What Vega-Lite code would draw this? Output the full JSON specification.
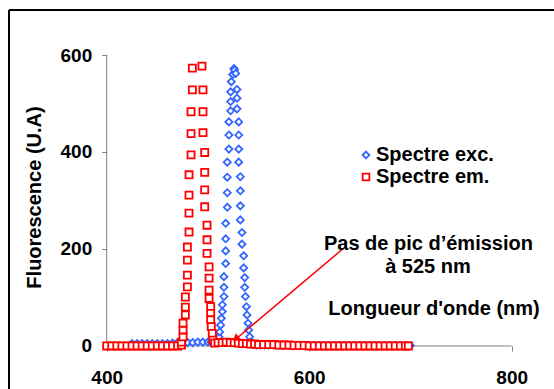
{
  "$schema": "https://vega.github.io/schema/vega-lite/v6.json",
  "width": 545,
  "height": 379,
  "autosize": {"type": "none"},
  "padding": {"left": 9, "top": 10, "right": 0, "bottom": 0},
  "background": "white",
  "data": {"values": [{"one": 1}]},
  "config": {
    "view": {"stroke": null},
    "axis": {
      "domain": false, "grid": false, "tickColor": "#808080", "tickWidth": 1, "tickSize": 5,
      "labelFont": "Liberation Sans", "labelFontWeight": "bold", "labelFontSize": 19, "labelColor": "black",
      "labelFlush": false, "labelOverlap": false,
      "titleFont": "Liberation Sans", "titleFontWeight": "bold", "titleFontSize": 20, "titleColor": "black"
    },
    "legend": {
      "title": null, "padding": 0,
      "labelFont": "Liberation Sans", "labelFontSize": 20, "labelFontWeight": "bold", "labelColor": "black",
      "symbolSize": 45, "symbolStrokeWidth": 1.8, "labelOffset": 0, "rowPadding": 2
    }
  },
  "datasets": {
    "spectra": [
      {"series": "Spectre exc.", "x": 425, "y": 5}, {"series": "Spectre exc.", "x": 430, "y": 5}, {"series": "Spectre exc.", "x": 435, "y": 5}, {"series": "Spectre exc.", "x": 440, "y": 5},
      {"series": "Spectre exc.", "x": 445, "y": 5}, {"series": "Spectre exc.", "x": 450, "y": 5}, {"series": "Spectre exc.", "x": 455, "y": 5}, {"series": "Spectre exc.", "x": 460, "y": 5},
      {"series": "Spectre exc.", "x": 465, "y": 6}, {"series": "Spectre exc.", "x": 470, "y": 7}, {"series": "Spectre exc.", "x": 475, "y": 7}, {"series": "Spectre exc.", "x": 480, "y": 7},
      {"series": "Spectre exc.", "x": 485, "y": 7}, {"series": "Spectre exc.", "x": 490, "y": 8}, {"series": "Spectre exc.", "x": 495, "y": 8}, {"series": "Spectre exc.", "x": 500, "y": 8},
      {"series": "Spectre exc.", "x": 503, "y": 8}, {"series": "Spectre exc.", "x": 505, "y": 9}, {"series": "Spectre exc.", "x": 507, "y": 10}, {"series": "Spectre exc.", "x": 509, "y": 14},
      {"series": "Spectre exc.", "x": 510.8, "y": 19}, {"series": "Spectre exc.", "x": 511.5, "y": 29}, {"series": "Spectre exc.", "x": 512.5, "y": 43}, {"series": "Spectre exc.", "x": 513.2, "y": 57},
      {"series": "Spectre exc.", "x": 514.2, "y": 71}, {"series": "Spectre exc.", "x": 514.2, "y": 85}, {"series": "Spectre exc.", "x": 515.8, "y": 102}, {"series": "Spectre exc.", "x": 515.8, "y": 121},
      {"series": "Spectre exc.", "x": 515.8, "y": 143}, {"series": "Spectre exc.", "x": 517.5, "y": 170}, {"series": "Spectre exc.", "x": 517.5, "y": 196}, {"series": "Spectre exc.", "x": 517.5, "y": 221},
      {"series": "Spectre exc.", "x": 517.5, "y": 253}, {"series": "Spectre exc.", "x": 519.1, "y": 286}, {"series": "Spectre exc.", "x": 519.1, "y": 316}, {"series": "Spectre exc.", "x": 519.1, "y": 348},
      {"series": "Spectre exc.", "x": 519.1, "y": 379}, {"series": "Spectre exc.", "x": 520.7, "y": 406}, {"series": "Spectre exc.", "x": 520.7, "y": 435}, {"series": "Spectre exc.", "x": 520.7, "y": 462},
      {"series": "Spectre exc.", "x": 522.4, "y": 485}, {"series": "Spectre exc.", "x": 522.4, "y": 504}, {"series": "Spectre exc.", "x": 522.4, "y": 524}, {"series": "Spectre exc.", "x": 523.1, "y": 545},
      {"series": "Spectre exc.", "x": 524.5, "y": 560}, {"series": "Spectre exc.", "x": 525.7, "y": 572}, {"series": "Spectre exc.", "x": 526.2, "y": 569},
      {"series": "Spectre exc.", "x": 527.4, "y": 562}, {"series": "Spectre exc.", "x": 528.7, "y": 529}, {"series": "Spectre exc.", "x": 528.7, "y": 511}, {"series": "Spectre exc.", "x": 528.7, "y": 489},
      {"series": "Spectre exc.", "x": 530.4, "y": 462}, {"series": "Spectre exc.", "x": 530.4, "y": 435}, {"series": "Spectre exc.", "x": 530.4, "y": 406}, {"series": "Spectre exc.", "x": 530.4, "y": 379},
      {"series": "Spectre exc.", "x": 532, "y": 349}, {"series": "Spectre exc.", "x": 532, "y": 320}, {"series": "Spectre exc.", "x": 532, "y": 289}, {"series": "Spectre exc.", "x": 532, "y": 260},
      {"series": "Spectre exc.", "x": 533.6, "y": 234}, {"series": "Spectre exc.", "x": 533.6, "y": 210}, {"series": "Spectre exc.", "x": 535.3, "y": 186}, {"series": "Spectre exc.", "x": 535.3, "y": 161},
      {"series": "Spectre exc.", "x": 536.3, "y": 141}, {"series": "Spectre exc.", "x": 536.3, "y": 121}, {"series": "Spectre exc.", "x": 537, "y": 102}, {"series": "Spectre exc.", "x": 538, "y": 81},
      {"series": "Spectre exc.", "x": 538.6, "y": 64}, {"series": "Spectre exc.", "x": 539.6, "y": 47}, {"series": "Spectre exc.", "x": 540.2, "y": 33}, {"series": "Spectre exc.", "x": 541.2, "y": 19},
      {"series": "Spectre exc.", "x": 542.5, "y": 8}, {"series": "Spectre exc.", "x": 544, "y": 3},
      {"series": "Spectre exc.", "x": 548, "y": 2}, {"series": "Spectre exc.", "x": 552, "y": 2}, {"series": "Spectre exc.", "x": 556, "y": 2}, {"series": "Spectre exc.", "x": 560, "y": 2},
      {"series": "Spectre exc.", "x": 565, "y": 2}, {"series": "Spectre exc.", "x": 570, "y": 2}, {"series": "Spectre exc.", "x": 575, "y": 1}, {"series": "Spectre exc.", "x": 580, "y": 1},
      {"series": "Spectre exc.", "x": 585, "y": 1}, {"series": "Spectre exc.", "x": 590, "y": 1}, {"series": "Spectre exc.", "x": 595, "y": 1}, {"series": "Spectre exc.", "x": 600, "y": 1},
      {"series": "Spectre exc.", "x": 605, "y": 1}, {"series": "Spectre exc.", "x": 610, "y": 1}, {"series": "Spectre exc.", "x": 615, "y": 1}, {"series": "Spectre exc.", "x": 620, "y": 1},
      {"series": "Spectre exc.", "x": 625, "y": 1}, {"series": "Spectre exc.", "x": 630, "y": 1}, {"series": "Spectre exc.", "x": 635, "y": 1}, {"series": "Spectre exc.", "x": 640, "y": 1},
      {"series": "Spectre exc.", "x": 645, "y": 1}, {"series": "Spectre exc.", "x": 650, "y": 1}, {"series": "Spectre exc.", "x": 655, "y": 1}, {"series": "Spectre exc.", "x": 660, "y": 1},
      {"series": "Spectre exc.", "x": 665, "y": 1}, {"series": "Spectre exc.", "x": 670, "y": 1}, {"series": "Spectre exc.", "x": 675, "y": 1}, {"series": "Spectre exc.", "x": 680, "y": 1},
      {"series": "Spectre exc.", "x": 685, "y": 1}, {"series": "Spectre exc.", "x": 690, "y": 1}, {"series": "Spectre exc.", "x": 695, "y": 1}, {"series": "Spectre exc.", "x": 700, "y": 1},

      {"series": "Spectre em.", "x": 400, "y": 0}, {"series": "Spectre em.", "x": 405, "y": 0}, {"series": "Spectre em.", "x": 410, "y": 0}, {"series": "Spectre em.", "x": 415, "y": 0},
      {"series": "Spectre em.", "x": 420, "y": 0}, {"series": "Spectre em.", "x": 425, "y": 0}, {"series": "Spectre em.", "x": 430, "y": 0}, {"series": "Spectre em.", "x": 435, "y": 0},
      {"series": "Spectre em.", "x": 440, "y": 0}, {"series": "Spectre em.", "x": 445, "y": 0}, {"series": "Spectre em.", "x": 450, "y": 0}, {"series": "Spectre em.", "x": 455, "y": 0},
      {"series": "Spectre em.", "x": 460, "y": 0}, {"series": "Spectre em.", "x": 465, "y": 0}, {"series": "Spectre em.", "x": 470, "y": 0},
      {"series": "Spectre em.", "x": 473.8, "y": 2}, {"series": "Spectre em.", "x": 473.8, "y": 8}, {"series": "Spectre em.", "x": 475.4, "y": 19}, {"series": "Spectre em.", "x": 475.4, "y": 33},
      {"series": "Spectre em.", "x": 475.4, "y": 47}, {"series": "Spectre em.", "x": 477.7, "y": 64}, {"series": "Spectre em.", "x": 477.7, "y": 80}, {"series": "Spectre em.", "x": 477.7, "y": 101},
      {"series": "Spectre em.", "x": 479.7, "y": 122}, {"series": "Spectre em.", "x": 479.7, "y": 146}, {"series": "Spectre em.", "x": 479.7, "y": 177}, {"series": "Spectre em.", "x": 479.7, "y": 204},
      {"series": "Spectre em.", "x": 481.3, "y": 235}, {"series": "Spectre em.", "x": 481.3, "y": 274}, {"series": "Spectre em.", "x": 481.3, "y": 311}, {"series": "Spectre em.", "x": 481.3, "y": 353},
      {"series": "Spectre em.", "x": 483.3, "y": 394}, {"series": "Spectre em.", "x": 483.3, "y": 438}, {"series": "Spectre em.", "x": 483.3, "y": 483}, {"series": "Spectre em.", "x": 484.6, "y": 528},
      {"series": "Spectre em.", "x": 484.6, "y": 573},
      {"series": "Spectre em.", "x": 494.1, "y": 577}, {"series": "Spectre em.", "x": 495.1, "y": 528}, {"series": "Spectre em.", "x": 495.1, "y": 483}, {"series": "Spectre em.", "x": 495.1, "y": 440},
      {"series": "Spectre em.", "x": 496.8, "y": 399}, {"series": "Spectre em.", "x": 496.8, "y": 358}, {"series": "Spectre em.", "x": 496.8, "y": 322}, {"series": "Spectre em.", "x": 496.8, "y": 287},
      {"series": "Spectre em.", "x": 499.1, "y": 249}, {"series": "Spectre em.", "x": 499.1, "y": 219}, {"series": "Spectre em.", "x": 499.1, "y": 191}, {"series": "Spectre em.", "x": 501.1, "y": 163},
      {"series": "Spectre em.", "x": 501.1, "y": 140}, {"series": "Spectre em.", "x": 501.1, "y": 115}, {"series": "Spectre em.", "x": 501.1, "y": 98}, {"series": "Spectre em.", "x": 502.7, "y": 81},
      {"series": "Spectre em.", "x": 502.7, "y": 67}, {"series": "Spectre em.", "x": 502.7, "y": 54}, {"series": "Spectre em.", "x": 503.3, "y": 40}, {"series": "Spectre em.", "x": 504.3, "y": 26},
      {"series": "Spectre em.", "x": 505, "y": 12}, {"series": "Spectre em.", "x": 506.7, "y": 6},
      {"series": "Spectre em.", "x": 510, "y": 7}, {"series": "Spectre em.", "x": 514, "y": 7}, {"series": "Spectre em.", "x": 518, "y": 8}, {"series": "Spectre em.", "x": 522, "y": 7},
      {"series": "Spectre em.", "x": 526, "y": 7}, {"series": "Spectre em.", "x": 530, "y": 6}, {"series": "Spectre em.", "x": 534, "y": 5}, {"series": "Spectre em.", "x": 538, "y": 5},
      {"series": "Spectre em.", "x": 542, "y": 4}, {"series": "Spectre em.", "x": 546, "y": 4}, {"series": "Spectre em.", "x": 550, "y": 3}, {"series": "Spectre em.", "x": 555, "y": 3},
      {"series": "Spectre em.", "x": 560, "y": 3}, {"series": "Spectre em.", "x": 565, "y": 3}, {"series": "Spectre em.", "x": 570, "y": 2}, {"series": "Spectre em.", "x": 575, "y": 2},
      {"series": "Spectre em.", "x": 580, "y": 2}, {"series": "Spectre em.", "x": 585, "y": 1}, {"series": "Spectre em.", "x": 590, "y": 1}, {"series": "Spectre em.", "x": 595, "y": 1},
      {"series": "Spectre em.", "x": 600, "y": 0}, {"series": "Spectre em.", "x": 605, "y": 0}, {"series": "Spectre em.", "x": 610, "y": 0}, {"series": "Spectre em.", "x": 615, "y": 0},
      {"series": "Spectre em.", "x": 620, "y": 0}, {"series": "Spectre em.", "x": 625, "y": 0}, {"series": "Spectre em.", "x": 630, "y": 0}, {"series": "Spectre em.", "x": 635, "y": 0},
      {"series": "Spectre em.", "x": 640, "y": 0}, {"series": "Spectre em.", "x": 645, "y": 0}, {"series": "Spectre em.", "x": 650, "y": 0}, {"series": "Spectre em.", "x": 655, "y": 0},
      {"series": "Spectre em.", "x": 660, "y": 0}, {"series": "Spectre em.", "x": 665, "y": 0}, {"series": "Spectre em.", "x": 670, "y": 0}, {"series": "Spectre em.", "x": 675, "y": 0},
      {"series": "Spectre em.", "x": 680, "y": 0}, {"series": "Spectre em.", "x": 685, "y": 0}, {"series": "Spectre em.", "x": 690, "y": 0}, {"series": "Spectre em.", "x": 695, "y": 0},
      {"series": "Spectre em.", "x": 698, "y": 0}
    ]
  },
  "layer": [
    {
      "mark": {"type": "rule", "color": "black", "strokeWidth": 2},
      "encoding": {
        "x": {"datum": 303.5, "type": "quantitative", "scale": {"domain": [303.5, 841.8], "nice": false, "zero": false}, "axis": {"values": [400, 600, 800], "orient": "bottom", "offset": -43, "labelPadding": 32, "labelBaseline": "alphabetic", "title": null}},
        "x2": {"datum": 841.8},
        "y": {"datum": 692.8, "type": "quantitative", "scale": {"domain": [-88.7, 692.8], "nice": false, "zero": false}, "axis": {"values": [0, 200, 400, 600], "orient": "left", "offset": -97.7, "labelPadding": 10, "title": "Fluorescence (U.A)", "titleX": -66, "titleY": 187, "titleAngle": -90, "titleAlign": "center", "titleBaseline": "alphabetic"}}
      }
    },
    {
      "mark": {"type": "rule", "color": "black", "strokeWidth": 2},
      "encoding": {"x": {"datum": 303.5}, "y": {"datum": -88.7}, "y2": {"datum": 692.8}}
    },
    {
      "mark": {"type": "rule", "color": "#808080", "strokeWidth": 1},
      "encoding": {"x": {"datum": 400}, "y": {"datum": 0}, "y2": {"datum": 600}}
    },
    {
      "mark": {"type": "rule", "color": "#808080", "strokeWidth": 1},
      "encoding": {"x": {"datum": 400}, "x2": {"datum": 800}, "y": {"datum": 0}}
    },
    {
      "data": {"name": "spectra"},
      "mark": {"type": "point", "filled": false, "fill": "white", "fillOpacity": 1, "size": 50, "strokeWidth": 1.8, "opacity": 1},
      "encoding": {
        "x": {"field": "x", "type": "quantitative"},
        "y": {"field": "y", "type": "quantitative"},
        "color": {"field": "series", "type": "nominal", "scale": {"domain": ["Spectre exc.", "Spectre em."], "range": ["#3366FF", "#FF0000"]}, "legend": {"orient": "none", "legendX": 347, "legendY": 135}},
        "shape": {"field": "series", "type": "nominal", "scale": {"domain": ["Spectre exc.", "Spectre em."], "range": ["diamond", "square"]}, "legend": {"orient": "none", "legendX": 347, "legendY": 135}}
      }
    },
    {
      "mark": {"type": "rule", "color": "#FF0000", "strokeWidth": 1.5},
      "encoding": {"x": {"datum": 633.7}, "y": {"datum": 201}, "x2": {"datum": 528.5}, "y2": {"datum": 16}}
    },
    {
      "mark": {"type": "point", "shape": "triangle-up", "filled": true, "color": "#FF0000", "size": 70, "angle": 230, "opacity": 1},
      "encoding": {"x": {"datum": 527.4}, "y": {"datum": 15}}
    },
    {
      "mark": {"type": "text", "text": "Pas de pic d’émission", "font": "Liberation Sans", "fontWeight": "bold", "fontSize": 20, "color": "black", "align": "center", "baseline": "alphabetic"},
      "encoding": {"x": {"datum": 717.8}, "y": {"datum": 198}}
    },
    {
      "mark": {"type": "text", "text": "à 525 nm", "font": "Liberation Sans", "fontWeight": "bold", "fontSize": 20, "color": "black", "align": "center", "baseline": "alphabetic"},
      "encoding": {"x": {"datum": 717.3}, "y": {"datum": 150}}
    },
    {
      "mark": {"type": "text", "text": "Longueur d'onde (nm)", "font": "Liberation Sans", "fontWeight": "bold", "fontSize": 20, "color": "black", "align": "center", "baseline": "alphabetic"},
      "encoding": {"x": {"datum": 723.3}, "y": {"datum": 64}}
    }
  ]
}
